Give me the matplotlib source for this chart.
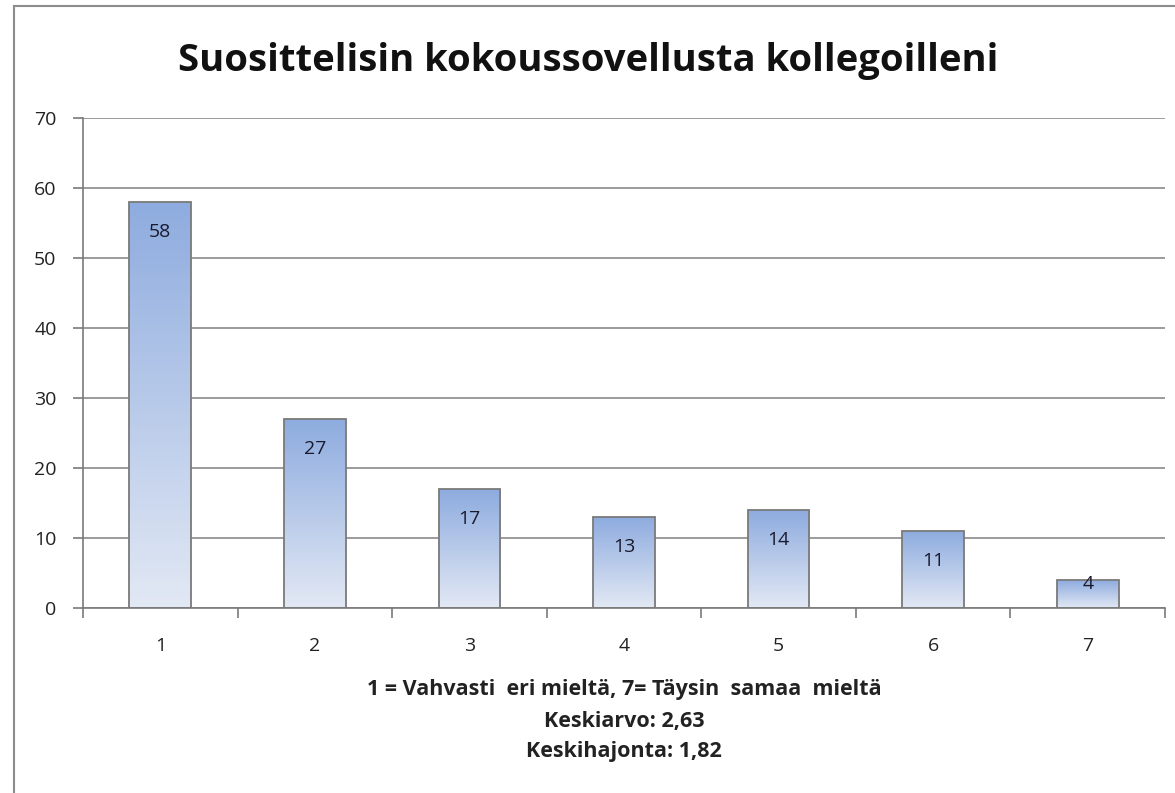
import numpy as np
import matplotlib.pyplot as plt
from matplotlib.patches import Rectangle
from matplotlib.colors import LinearSegmentedColormap

# data
categories = ['1', '2', '3', '4', '5', '6', '7']
counts = [58, 27, 17, 13, 14, 11, 4]
title = 'Suosittelisin kokoussovellusta kollegoilleni'
xlabel_lines = ['1 = Vahvasti  eri mieltä, 7= Täysin  samaa  mieltä',
                'Keskiarvo: 2,63',
                'Keskihajonta: 1,82']

plt.rcParams['font.family'] = ['Open Sans', 'DejaVu Sans']

W, H = 1175, 793
fig = plt.figure(figsize=(W/100, H/100), dpi=100)
fig.patch.set_facecolor('white')

# chart frame (extends past right/bottom edge)
fig.patches.append(Rectangle((14/W, -0.1), 1.2, 1 - 6/H + 0.1, transform=fig.transFigure,
                             fill=False, edgecolor='#8c8c8c', lw=1.5))

ax = fig.add_axes([83/W, 1 - 608/H, (1165-83)/W, (608-118)/H])
x = np.arange(len(categories))

grad = LinearSegmentedColormap.from_list('g', ['#e2e8f4', '#8eacdf'])
bars = ax.bar(x, counts, width=0.4, color='none', edgecolor='#7a7a7a', lw=1.3, zorder=3)
for b in bars:
    x0, w, h = b.get_x(), b.get_width(), b.get_height()
    im = ax.imshow(np.linspace(0, 1, 100).reshape(-1, 1), cmap=grad, origin='lower',
                   extent=[x0, x0 + w, 0, h], aspect='auto', zorder=2)
    im.set_clip_path(b)
ax.set_xlim(-0.5, len(categories) - 0.5)
ax.set_ylim(0, 70)

for xi, v in zip(x, counts):
    ly = v - 4.3 if v > 8 else v - 0.6
    ax.text(xi, ly, str(v), ha='center', va='center', fontsize=14, color='#1a1a2e', zorder=4)

ax.set_yticks(np.arange(0, 71, 10))
ax.yaxis.grid(True, color='#8a8a8a', lw=1.2)
ax.set_axisbelow(True)
ax.set_xticks(x)
ax.set_xticklabels(categories)
ax.set_xticks(np.arange(-0.5, len(categories)), minor=True)
ax.tick_params(axis='x', which='major', length=0, pad=21, labelsize=14, labelcolor='#222222')
ax.tick_params(axis='x', which='minor', length=7, color='#7a7a7a', width=1.2, direction='out')
ax.tick_params(axis='y', length=7, color='#7a7a7a', width=1.2, labelsize=14, pad=12,
               labelcolor='#222222')
for s in ['top', 'right']:
    ax.spines[s].set_visible(False)
for s in ['left', 'bottom']:
    ax.spines[s].set_color('#7a7a7a')
    ax.spines[s].set_linewidth(1.2)

fig.text(588/W, 1 - 61/H, title, ha='center', va='center', fontsize=27.5, fontweight='bold',
         color='#111111')
for i, line in enumerate(xlabel_lines):
    fig.text(624/W, 1 - (690 + 31*i)/H, line, ha='center', va='center', fontsize=15.5,
             fontweight='bold', color='#222222')

fig.savefig('out.png', dpi=100)
